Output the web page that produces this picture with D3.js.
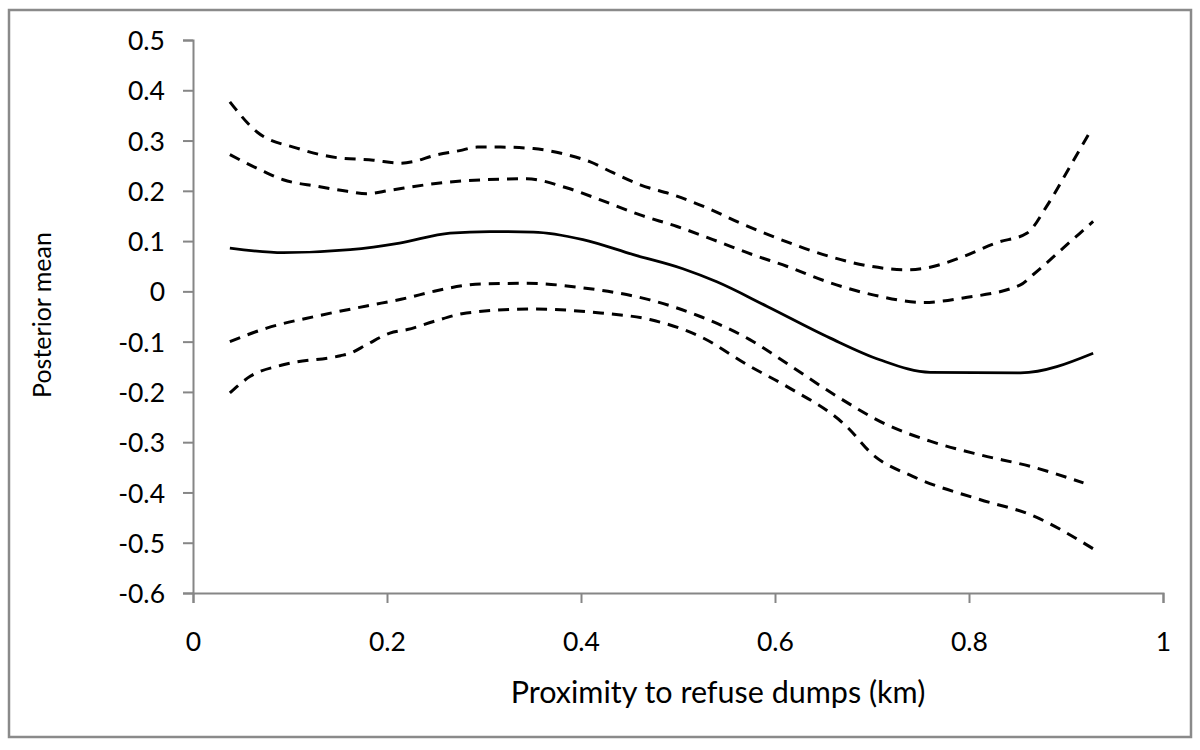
<!DOCTYPE html>
<html>
<head>
<meta charset="utf-8">
<script src="https://cdn.jsdelivr.net/npm/d3@7"></script>
<style>
  html, body { margin: 0; padding: 0; background: #fff; }
  svg { display: block; }
  text { font-family: Lato, "Open Sans", sans-serif; fill: #000; }
</style>
</head>
<body>
<svg id="chart" width="1200" height="750"></svg>
<script>
// ---- data ----
const xTicks = [0, 0.2, 0.4, 0.6, 0.8, 1];
const xTickLabels = ["0", "0.2", "0.4", "0.6", "0.8", "1"];
const yTicks = [0.5, 0.4, 0.3, 0.2, 0.1, 0, -0.1, -0.2, -0.3, -0.4, -0.5, -0.6];
const yTickLabels = ["0.5", "0.4", "0.3", "0.2", "0.1", "0", "-0.1", "-0.2", "-0.3", "-0.4", "-0.5", "-0.6"];

const upperOuterX = [0.038, 0.066, 0.107, 0.148, 0.186, 0.213, 0.227, 0.248, 0.275, 0.293, 0.316, 0.351, 0.385, 0.409, 0.433, 0.461, 0.495, 0.530, 0.564, 0.602, 0.657, 0.698, 0.736, 0.757, 0.794, 0.829, 0.860, 0.880, 0.904, 0.925];
const upperOuterY = [0.377, 0.317, 0.285, 0.266, 0.261, 0.255, 0.258, 0.270, 0.280, 0.287, 0.287, 0.284, 0.272, 0.258, 0.236, 0.212, 0.192, 0.166, 0.136, 0.106, 0.069, 0.050, 0.043, 0.047, 0.069, 0.097, 0.116, 0.169, 0.248, 0.318];

const upperInnerX = [0.038, 0.069, 0.093, 0.128, 0.159, 0.179, 0.203, 0.248, 0.299, 0.344, 0.385, 0.420, 0.461, 0.499, 0.536, 0.577, 0.612, 0.657, 0.701, 0.753, 0.794, 0.853, 0.866, 0.897, 0.928];
const upperInnerY = [0.272, 0.242, 0.222, 0.209, 0.199, 0.194, 0.201, 0.214, 0.222, 0.224, 0.206, 0.182, 0.152, 0.129, 0.103, 0.073, 0.050, 0.017, -0.007, -0.022, -0.013, 0.013, 0.033, 0.086, 0.139];

const meanX = [0.038, 0.093, 0.162, 0.213, 0.265, 0.306, 0.351, 0.402, 0.454, 0.505, 0.540, 0.592, 0.657, 0.708, 0.760, 0.853, 0.928];
const meanY = [0.086, 0.077, 0.083, 0.096, 0.116, 0.119, 0.118, 0.103, 0.073, 0.045, 0.019, -0.030, -0.093, -0.136, -0.161, -0.162, -0.123];

const lowerInnerX = [0.038, 0.076, 0.128, 0.179, 0.221, 0.248, 0.299, 0.344, 0.402, 0.471, 0.523, 0.574, 0.612, 0.664, 0.715, 0.760, 0.811, 0.863, 0.918];
const lowerInnerY = [-0.100, -0.073, -0.049, -0.029, -0.013, 0.000, 0.015, 0.016, 0.007, -0.017, -0.050, -0.096, -0.143, -0.209, -0.265, -0.298, -0.325, -0.348, -0.381];

const lowerOuterX = [0.038, 0.059, 0.093, 0.152, 0.162, 0.179, 0.203, 0.221, 0.248, 0.282, 0.349, 0.420, 0.471, 0.523, 0.574, 0.612, 0.674, 0.701, 0.742, 0.811, 0.863, 0.928];
const lowerOuterY = [-0.202, -0.169, -0.146, -0.128, -0.123, -0.106, -0.083, -0.076, -0.060, -0.043, -0.035, -0.043, -0.056, -0.090, -0.149, -0.189, -0.269, -0.325, -0.368, -0.414, -0.444, -0.512];

const xTitle = "Proximity to refuse dumps (km)";
const yTitle = "Posterior mean";

// ---- layout ----
const svg = d3.select("#chart");
const plot = { left: 193, right: 1163, top: 40, bottom: 593 };

svg.append("rect")
  .attr("x", 9).attr("y", 10).attr("width", 1182).attr("height", 727)
  .attr("fill", "#fff").attr("stroke", "#8a8a8a").attr("stroke-width", 2.5);

const x = d3.scaleLinear().domain([0, 1]).range([plot.left, plot.right]);
const y = d3.scaleLinear().domain([-0.6, 0.5]).range([plot.bottom, plot.top]);

const axisColor = "#868686";

const xAxis = d3.axisBottom(x).tickValues(xTicks)
  .tickFormat((d, i) => xTickLabels[i]).tickSize(10).tickPadding(29);
const gx = svg.append("g").attr("transform", `translate(0,${plot.bottom})`).call(xAxis);

const yAxis = d3.axisLeft(y).tickValues(yTicks)
  .tickFormat((d, i) => yTickLabels[i]).tickSize(10).tickPadding(18);
const gy = svg.append("g").attr("transform", `translate(${plot.left},0)`).call(yAxis);

[gx, gy].forEach(g => {
  g.select(".domain").attr("stroke", axisColor).attr("stroke-width", 2);
  g.selectAll(".tick line").attr("stroke", axisColor).attr("stroke-width", 2);
  g.selectAll(".tick text").attr("fill", "#000")
    .style("font-family", "Lato, 'Open Sans', sans-serif").style("font-size", "26.5px");
});
gy.selectAll(".tick text").attr("dy", "0.36em");

// titles
svg.append("text")
  .attr("x", 718).attr("y", 703)
  .attr("text-anchor", "middle").style("font-size", "30.5px")
  .text(xTitle);

svg.append("text")
  .attr("transform", `translate(51,315) rotate(-90)`)
  .attr("text-anchor", "middle").style("font-size", "25px")
  .text(yTitle);

// lines
const line = d3.line().x(d => x(d[0])).y(d => y(d[1])).curve(d3.curveMonotoneX);
const zip = (xs, ys) => xs.map((v, i) => [v, ys[i]]);

const series = [
  { data: zip(upperOuterX, upperOuterY), dashed: true },
  { data: zip(upperInnerX, upperInnerY), dashed: true },
  { data: zip(meanX, meanY), dashed: false },
  { data: zip(lowerInnerX, lowerInnerY), dashed: true },
  { data: zip(lowerOuterX, lowerOuterY), dashed: true }
];

svg.append("g").selectAll("path").data(series).join("path")
  .attr("d", d => line(d.data))
  .attr("fill", "none")
  .attr("stroke", "#000")
  .attr("stroke-width", d => d.dashed ? 3 : 2.8)
  .attr("stroke-dasharray", d => d.dashed ? "11,8" : null);
</script>
</body>
</html>
